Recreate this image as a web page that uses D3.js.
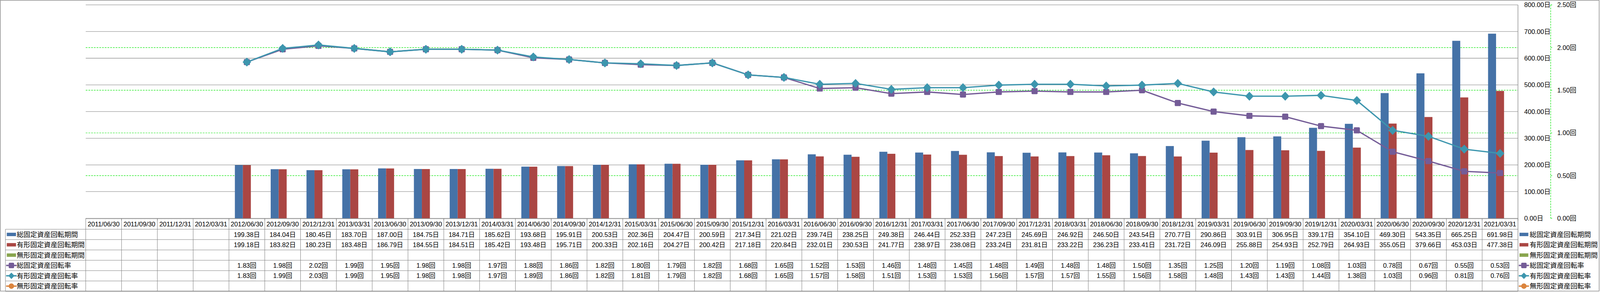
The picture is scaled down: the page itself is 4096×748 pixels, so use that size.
<!DOCTYPE html>
<html>
<head>
<meta charset="utf-8">
<script src="https://cdn.jsdelivr.net/npm/d3@7"></script>
<style>
  body { margin: 0; background: #fff; }
  text { font-family: "Liberation Sans", Arial, "Noto Sans CJK JP", sans-serif; fill: #000; }
  .jp { font-family: "Noto Sans CJK JP", sans-serif; }
</style>
</head>
<body>
<div id="chart"></div>
<script>
// categories (quarter ends)
var categories = ["2011/06/30","2011/09/30","2011/12/31","2012/03/31","2012/06/30","2012/09/30","2012/12/31","2013/03/31",
  "2013/06/30","2013/09/30","2013/12/31","2014/03/31","2014/06/30","2014/09/30","2014/12/31","2015/03/31",
  "2015/06/30","2015/09/30","2015/12/31","2016/03/31","2016/06/30","2016/09/30","2016/12/31","2017/03/31",
  "2017/06/30","2017/09/30","2017/12/31","2018/03/31","2018/06/30","2018/09/30","2018/12/31","2019/03/31",
  "2019/06/30","2019/09/30","2019/12/31","2020/03/31","2020/06/30","2020/09/30","2020/12/31","2021/03/31"];

// 総固定資産回転期間 (日)
var totalPeriod = [null,null,null,null,199.38,184.04,180.45,183.70,187.00,184.75,184.71,185.62,193.68,195.91,
  200.53,202.36,204.47,200.59,217.34,221.02,239.74,238.25,249.38,246.44,252.33,247.23,245.69,246.92,246.50,
  243.54,270.77,290.86,303.91,306.95,339.17,354.10,469.30,543.35,665.25,691.98];
// 有形固定資産回転期間 (日)
var tangiblePeriod = [null,null,null,null,199.18,183.82,180.23,183.48,186.79,184.55,184.51,185.42,193.48,195.71,
  200.33,202.16,204.27,200.42,217.18,220.84,232.01,230.53,241.77,238.97,238.08,233.24,231.81,233.22,236.23,
  233.41,231.72,246.09,255.88,254.93,252.79,264.93,355.05,379.66,453.03,477.38];
// 無形固定資産回転期間 (no data)
var intangiblePeriod = new Array(categories.length).fill(null);
// 総固定資産回転率 (回)
var totalRate = [null,null,null,null,1.83,1.98,2.02,1.99,1.95,1.98,1.98,1.97,1.88,1.86,1.82,1.80,1.79,1.82,
  1.68,1.65,1.52,1.53,1.46,1.48,1.45,1.48,1.49,1.48,1.48,1.50,1.35,1.25,1.20,1.19,1.08,1.03,0.78,0.67,0.55,0.53];
// 有形固定資産回転率 (回)
var tangibleRate = [null,null,null,null,1.83,1.99,2.03,1.99,1.95,1.98,1.98,1.97,1.89,1.86,1.82,1.81,1.79,1.82,
  1.68,1.65,1.57,1.58,1.51,1.53,1.53,1.56,1.57,1.57,1.55,1.56,1.58,1.48,1.43,1.43,1.44,1.38,1.03,0.96,0.81,0.76];
// 無形固定資産回転率 (no data)
var intangibleRate = new Array(categories.length).fill(null);

var seriesNames = ["総固定資産回転期間","有形固定資産回転期間","無形固定資産回転期間",
  "総固定資産回転率","有形固定資産回転率","無形固定資産回転率"];
var leftTicks = [0,100,200,300,400,500,600,700,800];
var rightTicks = [0,0.5,1,1.5,2,2.5];

var series = [
  {name: seriesNames[0], values: totalPeriod, type: "bar", unit: "日", color: "#4572A7"},
  {name: seriesNames[1], values: tangiblePeriod, type: "bar", unit: "日", color: "#AA4643"},
  {name: seriesNames[2], values: intangiblePeriod, type: "bar", unit: "日", color: "#89A54E"},
  {name: seriesNames[3], values: totalRate, type: "line", unit: "回", color: "#745C97", marker: "square"},
  {name: seriesNames[4], values: tangibleRate, type: "line", unit: "回", color: "#3D96AE", marker: "diamond"},
  {name: seriesNames[5], values: intangibleRate, type: "line", unit: "回", color: "#DB843D", marker: "circle"}
];

// everything is laid out in reference pixels and scaled down to the window
var k = 0.871;
var W = 4701, H = 858;
var plot = {left: 252, right: 4461.5, top: 14.3, bottom: 642};
var table = {left: 16, top: 643.3, headH: 31, rowH: 30.4};
var gridColor = "#808080";
var green = "#00e600";

var root = d3.select("#chart")
  .append("svg")
    .attr("width", 4096)
    .attr("height", 748)
  .append("g")
    .attr("transform", "scale(" + k + ")");

// outer frame
root.append("rect")
  .attr("x", 1).attr("y", 1)
  .attr("width", W - 2).attr("height", H - 3)
  .attr("fill", "none")
  .attr("stroke", gridColor)
  .attr("stroke-width", 1.5);

// scales
var x0 = d3.scaleBand().domain(categories).range([plot.left, plot.right]).padding(0);
var x1 = d3.scaleBand().domain([0, 1, 2]).range([0, x0.bandwidth()]).paddingInner(0).paddingOuter(0.74);
var yL = d3.scaleLinear().domain([0, 800]).range([plot.bottom, plot.top]);
var yR = d3.scaleLinear().domain([0, 2.5]).range([plot.bottom, plot.top]);
var fmt = d3.format(".2f");
var cx = function(i) { return x0(categories[i]) + x0.bandwidth() / 2; };

// gray gridlines (left axis)
root.append("g").selectAll("line")
  .data(leftTicks)
  .join("line")
    .attr("x1", plot.left).attr("x2", plot.right)
    .attr("y1", function(d) { return yL(d); })
    .attr("y2", function(d) { return yL(d); })
    .attr("stroke", gridColor)
    .attr("stroke-width", 1.2);

// green dashed gridlines (right axis)
root.append("g").selectAll("line")
  .data(rightTicks.filter(function(d) { return d > 0 && d < 2.5; }))
  .join("line")
    .attr("x1", plot.left).attr("x2", plot.right)
    .attr("y1", function(d) { return yR(d); })
    .attr("y2", function(d) { return yR(d); })
    .attr("stroke", green)
    .attr("stroke-width", 1.4)
    .attr("stroke-dasharray", "5,3");

// x ticks below the axis
root.append("g").selectAll("line")
  .data(d3.range(categories.length + 1))
  .join("line")
    .attr("x1", function(i) { return plot.left + i * x0.step(); })
    .attr("x2", function(i) { return plot.left + i * x0.step(); })
    .attr("y1", plot.bottom).attr("y2", plot.bottom + 7)
    .attr("stroke", gridColor)
    .attr("stroke-width", 1.2);

// bars
series.filter(function(s) { return s.type === "bar"; }).forEach(function(s, si) {
  root.append("g").selectAll("rect")
    .data(s.values.map(function(v, i) { return {v: v, i: i}; }).filter(function(d) { return d.v != null; }))
    .join("rect")
      .attr("x", function(d) { return x0(categories[d.i]) + x1(si); })
      .attr("y", function(d) { return yL(d.v); })
      .attr("width", x1.bandwidth())
      .attr("height", function(d) { return yL(0) - yL(d.v); })
      .attr("fill", s.color);
});

// marker shapes
function drawMarker(g, shape, color, x, y, size) {
  if (shape === "square") {
    g.append("rect")
      .attr("x", x - size / 2).attr("y", y - size / 2)
      .attr("width", size).attr("height", size)
      .attr("rx", 3)
      .attr("fill", color);
  } else if (shape === "diamond") {
    var h = size * 0.5;
    g.append("path")
      .attr("d", "M" + x + "," + (y - h * 1.05) + "L" + (x + h) + "," + y + "L" + x + "," + (y + h * 1.05) + "L" + (x - h) + "," + y + "Z")
      .attr("fill", color)
      .attr("stroke", color)
      .attr("stroke-width", 1.5)
      .attr("stroke-linejoin", "round");
  } else {
    g.append("circle").attr("cx", x).attr("cy", y).attr("r", size / 2).attr("fill", color);
  }
}

// lines
series.filter(function(s) { return s.type === "line"; }).forEach(function(s) {
  var pts = s.values.map(function(v, i) { return {v: v, i: i}; }).filter(function(d) { return d.v != null; });
  if (!pts.length) return;
  var g = root.append("g");
  g.append("path")
    .datum(pts)
    .attr("fill", "none")
    .attr("stroke", s.color)
    .attr("stroke-width", 3.8)
    .attr("stroke-linejoin", "round")
    .attr("d", d3.line()
      .x(function(d) { return cx(d.i); })
      .y(function(d) { return yR(d.v); }));
  pts.forEach(function(d) {
    drawMarker(g, s.marker, s.color, cx(d.i), yR(d.v), s.marker === "square" ? 18 : 23);
  });
});

// right border of plot / table
root.append("line")
  .attr("x1", plot.right).attr("x2", plot.right)
  .attr("y1", plot.top).attr("y2", table.top + table.headH + table.rowH * 6)
  .attr("stroke", gridColor).attr("stroke-width", 1.5);

// axis labels (both axes sit at the right)
root.append("g").selectAll("text")
  .data(leftTicks)
  .join("text")
    .attr("x", 4480)
    .attr("y", function(d) { return yL(d); })
    .attr("dy", "0.36em")
    .attr("font-size", 19)
    .text(function(d) { return fmt(d) + "日"; });

root.append("line")
  .attr("x1", 4557.7).attr("x2", 4557.7)
  .attr("y1", yR(2.5)).attr("y2", yR(0))
  .attr("stroke", green).attr("stroke-width", 1.4)
  .attr("stroke-dasharray", "5,3");
root.append("g").selectAll("line")
  .data(rightTicks)
  .join("line")
    .attr("x1", 4557.7).attr("x2", 4562)
    .attr("y1", function(d) { return yR(d); })
    .attr("y2", function(d) { return yR(d); })
    .attr("stroke", green).attr("stroke-width", 1.4);
root.append("g").selectAll("text")
  .data(rightTicks)
  .join("text")
    .attr("x", 4577)
    .attr("y", function(d) { return yR(d); })
    .attr("dy", "0.36em")
    .attr("font-size", 19)
    .text(function(d) { return fmt(d) + "回"; });

// data table
var tb = root.append("g");
var rowY = function(r) { return table.top + table.headH + r * table.rowH; };
var tableBottom = rowY(seriesNames.length);

tb.append("line")
  .attr("x1", plot.left).attr("x2", plot.right)
  .attr("y1", table.top).attr("y2", table.top)
  .attr("stroke", gridColor).attr("stroke-width", 1.2);
tb.selectAll("line.row")
  .data(d3.range(seriesNames.length + 1))
  .join("line")
    .attr("class", "row")
    .attr("x1", table.left).attr("x2", plot.right)
    .attr("y1", function(r) { return rowY(r); })
    .attr("y2", function(r) { return rowY(r); })
    .attr("stroke", gridColor).attr("stroke-width", 1.2);
tb.selectAll("line.col")
  .data(d3.range(categories.length))
  .join("line")
    .attr("class", "col")
    .attr("x1", function(i) { return plot.left + i * x0.step(); })
    .attr("x2", function(i) { return plot.left + i * x0.step(); })
    .attr("y1", table.top).attr("y2", tableBottom)
    .attr("stroke", gridColor).attr("stroke-width", 1.2);
tb.append("line")
  .attr("x1", table.left).attr("x2", table.left)
  .attr("y1", rowY(0)).attr("y2", tableBottom)
  .attr("stroke", gridColor).attr("stroke-width", 1.2);

// header dates
tb.selectAll("text.head")
  .data(categories)
  .join("text")
    .attr("class", "head")
    .attr("x", function(d, i) { return cx(i); })
    .attr("y", table.top + table.headH / 2)
    .attr("dy", "0.36em")
    .attr("text-anchor", "middle")
    .attr("font-size", 19)
    .text(function(d) { return d; });

// legend key (used in table and right legend)
function drawKey(g, s, x, y, w) {
  if (s.type === "bar") {
    g.append("rect").attr("x", x).attr("y", y - 5).attr("width", w).attr("height", 10).attr("fill", s.color);
  } else {
    g.append("line").attr("x1", x - 2).attr("x2", x + w + 2).attr("y1", y).attr("y2", y)
      .attr("stroke", s.color).attr("stroke-width", 4);
    drawMarker(g, s.marker, s.color, x + w / 2, y, 16);
  }
}

series.forEach(function(s, r) {
  var yc = rowY(r) + table.rowH / 2;
  drawKey(tb, s, 20, yc, 27);
  tb.append("text")
    .attr("class", "jp")
    .attr("x", 49)
    .attr("y", yc)
    .attr("dy", "0.36em")
    .attr("font-size", 20)
    .text(s.name);
  tb.append("g").selectAll("text")
    .data(s.values.map(function(v, i) { return {v: v, i: i}; }).filter(function(d) { return d.v != null; }))
    .join("text")
      .attr("x", function(d) { return cx(d.i); })
      .attr("y", yc)
      .attr("dy", "0.36em")
      .attr("text-anchor", "middle")
      .attr("font-size", 19)
      .text(function(d) { return fmt(d.v) + s.unit; });

  // right legend
  drawKey(root, s, 4466, yc, 26);
  root.append("text")
    .attr("class", "jp")
    .attr("x", 4496)
    .attr("y", yc)
    .attr("dy", "0.36em")
    .attr("font-size", 20)
    .text(s.name);
});
</script>
</body>
</html>
